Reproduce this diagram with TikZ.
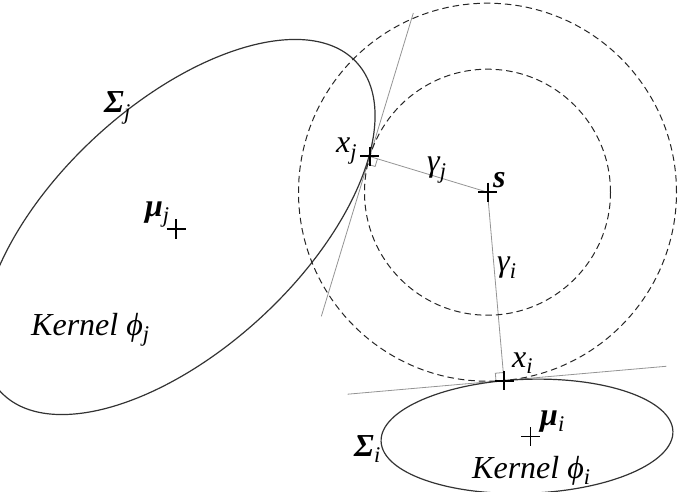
\documentclass[tikz,border=0pt]{standalone}
\usepackage{fontspec}
\setmainfont{Liberation Serif}
\usetikzlibrary{calc}
\begin{document}
\begin{tikzpicture}[x=1pt,y=-1pt,
  ell/.style={draw=black!80, line width=1.2pt},
  dcirc/.style={draw=black!85, dash pattern=on 6.5pt off 4pt, line width=1pt},
  gline/.style={draw=black!42, line width=0.8pt},
  lbl/.style={font=\fontsize{32}{38}\selectfont\itshape, inner sep=0pt, anchor=base west},
  plusm/.pic={\draw[line width=2pt] (-9.5,0) -- (9.5,0) (0,-9.5) -- (0,9.5);},
  plust/.pic={\draw[line width=1.5pt] (-9.5,0) -- (9.5,0) (0,-9.5) -- (0,9.5);}
  ]
\useasboundingbox (0,0) rectangle (678,492);
\clip (0,0) rectangle (678,492);
% key points
\coordinate (s)   at (487.5,192.2);
\coordinate (xj)  at (369.8,156.5);
\coordinate (xi)  at (504,380.5);
\coordinate (muj) at (176,229);
\coordinate (mui) at (530.7,436.7);
\coordinate (cj)  at (178.5,227);
\coordinate (ci)  at (527,436.3);
% tangent lines
\coordinate (tj1) at ($(xj)!150pt!90:(s)$);
\coordinate (tj2) at ($(xj)!167pt!-90:(s)$);
\coordinate (ti1) at ($(xi)!157pt!90:(s)$);
\coordinate (ti2) at ($(xi)!163pt!-90:(s)$);
\draw[gline] (tj1) -- (tj2);
\draw[gline] (ti1) -- (ti2);
% radii
\draw[gline] (s) -- (xj);
\draw[gline] (s) -- (xi);
% right-angle marks
\draw[gline] ($(xj)!8pt!(s)$) -- ($(xj)!11.31pt!-45:(s)$) -- ($(xj)!8pt!-90:(s)$);
\draw[gline] ($(xi)!8pt!(s)$) -- ($(xi)!11.31pt!45:(s)$) -- ($(xi)!8pt!90:(s)$);
% ellipses
\draw[ell, rotate around={42.74:(cj)}] (cj) ellipse [x radius=242.5pt, y radius=122.4pt];
\draw[ell, rotate around={2:(ci)}] (ci) ellipse [x radius=146pt, y radius=57pt];
% dashed circles
\draw[dcirc] (s) circle [radius=189pt];
\draw[dcirc] (s) circle [radius=123pt];
% plus marks
\pic at (s) {plusm};
\pic at (xj) {plusm};
\pic at (xi) {plusm};
\pic at (muj) {plust};
\pic at (mui) {plust};
% labels
\node[lbl] (Lsigj) at (104,113) {\bfseries Σ\textsubscript{\mdseries j}};
\node[lbl] (Lmuj) at (145,216) {\bfseries μ\textsubscript{\mdseries j}};
\node[lbl] (Lkj) at (31,335) {Kernel ϕ\textsubscript{j}};
\node[lbl] (Lxj) at (336,153) {x\textsubscript{j}};
\node[lbl] (Lgj) at (427,172) {γ\textsubscript{j}};
\node[lbl] (Ls) at (493,188) {\bfseries s};
\node[lbl] (Lgi) at (497,272) {γ\textsubscript{i}};
\node[lbl] (Lxi) at (512,367) {x\textsubscript{i}};
\node[lbl] (Lmui) at (540,425) {\bfseries μ\textsubscript{\mdseries i}};
\node[lbl] (Lki) at (472,478) {Kernel ϕ\textsubscript{i}};
\node[lbl] (Lsigi) at (354,456) {\bfseries Σ\textsubscript{\mdseries i}};
\end{tikzpicture}
\end{document}
